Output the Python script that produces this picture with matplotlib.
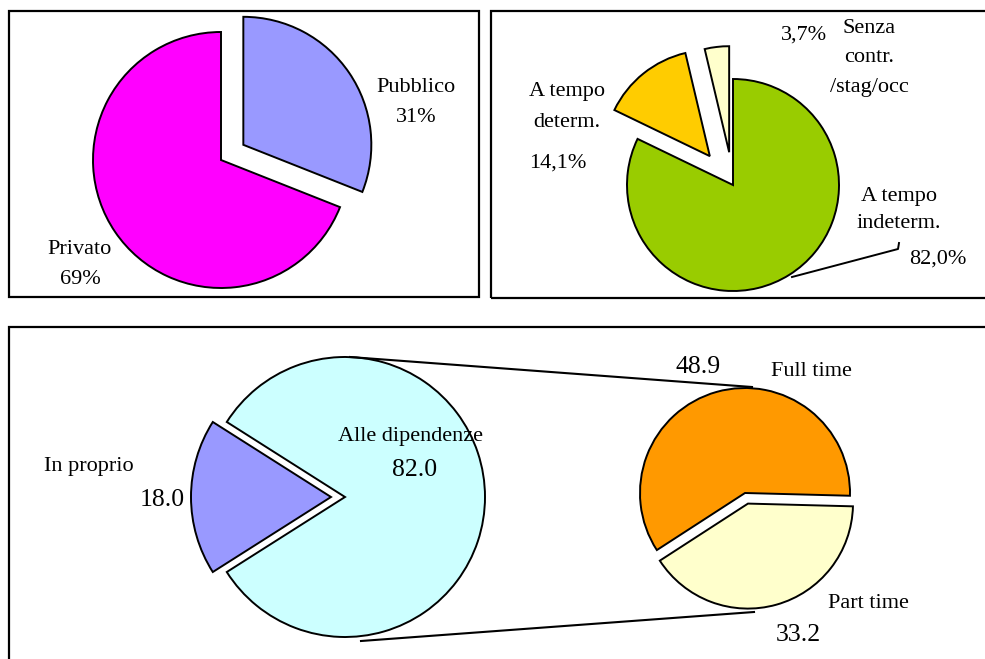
import matplotlib
matplotlib.use("Agg")
import matplotlib.pyplot as plt
from matplotlib.patches import Rectangle

# --- dati ---
settore_lab = ["Pubblico", "Privato"]
settore_val = [31, 69]

contratto_lab = ["A tempo\nindeterm.", "A tempo\ndeterm.", "Senza\ncontr.\n/stag/occ"]
contratto_val = [82.0, 14.1, 3.7]

posizione_lab = ["Alle dipendenze", "In proprio"]
posizione_val = [82.0, 18.0]

orario_lab = ["Full time", "Part time"]
orario_val = [48.9, 33.2]

W, H = 985, 659
def Y(y):  # coordinate immagine -> coordinate assi
    return H - y

plt.rcParams['font.family'] = ['Liberation Serif', 'DejaVu Serif']

fig = plt.figure(figsize=(9.85, 6.59), dpi=100)
ax = fig.add_axes([0, 0, 1, 1])
ax.set_xlim(0, W)
ax.set_ylim(0, H)
ax.set_aspect('equal')
ax.axis('off')

wp = dict(edgecolor='black', linewidth=1.4)
fs = 16    # etichette
fn = 18.5  # numeri grandi in basso

# riquadri
for (x0, y0, x1, y1) in [(8.5, 11, 479, 297), (491, 11, 995, 298), (9, 327, 995, 670)]:
    ax.add_patch(Rectangle((x0, Y(y1)), x1 - x0, y1 - y0, fill=False,
                           edgecolor='black', linewidth=1.6, zorder=5))

# 1) pubblico / privato
ax.pie(settore_val, colors=['#9999FF', '#FF00FF'], startangle=90, counterclock=False,
       explode=[27, 0], radius=128, center=(221, Y(160)), frame=True, wedgeprops=wp)
ax.text(416, Y(87), settore_lab[0], ha='center', va='center', fontsize=fs)
ax.text(416, Y(117), "%d%%" % settore_val[0], ha='center', va='center', fontsize=fs)
ax.text(80, Y(250), settore_lab[1], ha='center', va='center', fontsize=fs)
ax.text(80, Y(279), "%d%%" % settore_val[1], ha='center', va='center', fontsize=fs)

# 2) tipo di contratto
ax.pie(contratto_val, colors=['#99CC00', '#FFCC00', '#FFFFCC'], startangle=90,
       counterclock=False, explode=[0, 37, 33], radius=106, center=(733, Y(185)),
       frame=True, wedgeprops=wp)
def pct(v):
    return ("%.1f%%" % v).replace(".", ",")
ax.text(899, Y(210), contratto_lab[0], ha='center', va='center', fontsize=fs, linespacing=1.55)
ax.text(938, Y(259), pct(contratto_val[0]), ha='center', va='center', fontsize=fs)
ax.plot([792, 898, 899], [Y(277), Y(249), Y(243)], color='black', linewidth=1.4)
ax.text(567, Y(107), contratto_lab[1], ha='center', va='center', fontsize=fs, linespacing=1.8)
ax.text(558, Y(163), pct(contratto_val[1]), ha='center', va='center', fontsize=fs)
ax.text(804, Y(35), pct(contratto_val[2]), ha='center', va='center', fontsize=fs)
ax.text(869, Y(58), contratto_lab[2], ha='center', va='center', fontsize=fs, linespacing=1.75)

# 3) dipendenti / in proprio + full/part time
ax.pie(posizione_val, colors=['#CCFFFF', '#9999FF'], startangle=180 + 360 * posizione_val[1] / 200,
       counterclock=True, explode=[0, 14], radius=140, center=(345, Y(497)),
       frame=True, wedgeprops=wp)
ax.pie(orario_val, colors=['#FF9900', '#FFFFCC'], startangle=-1.5, counterclock=True,
       explode=[0, 11], radius=105, center=(745, Y(493)), frame=True, wedgeprops=wp)
ax.plot([350, 752], [Y(357), Y(387)], color='black', linewidth=1.5)
ax.plot([361, 754], [Y(641), Y(612)], color='black', linewidth=1.5)

ax.text(410, Y(437), posizione_lab[0], ha='center', va='center', fontsize=fs)
ax.text(415, Y(470), "%.1f" % posizione_val[0], ha='center', va='center', fontsize=fn)
ax.text(89, Y(467), posizione_lab[1], ha='center', va='center', fontsize=fs)
ax.text(162, Y(500), "%.1f" % posizione_val[1], ha='center', va='center', fontsize=fn)
ax.text(811, Y(371), orario_lab[0], ha='center', va='center', fontsize=fs)
ax.text(698, Y(367), "%.1f" % orario_val[0], ha='center', va='center', fontsize=fn)
ax.text(868, Y(603), orario_lab[1], ha='center', va='center', fontsize=fs)
ax.text(798, Y(635), "%.1f" % orario_val[1], ha='center', va='center', fontsize=fn)

ax.set_xlim(0, W)
ax.set_ylim(0, H)

fig.savefig("out.png", dpi=100)
